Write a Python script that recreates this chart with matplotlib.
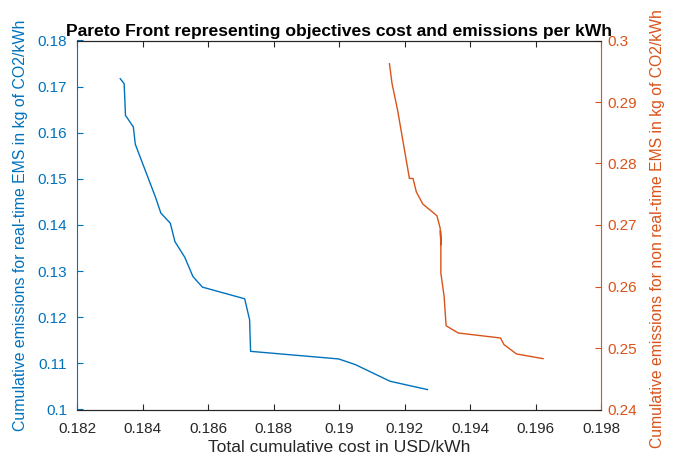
import matplotlib
matplotlib.use("Agg")
import matplotlib.pyplot as plt

# Pareto front, real-time EMS (left axis)
rt_cost = [0.18332, 0.18344, 0.18348, 0.18372, 0.18378, 0.18441, 0.18456, 0.18485,
           0.18499, 0.18529, 0.18554, 0.18583, 0.18712, 0.18727, 0.18730, 0.18999,
           0.19050, 0.19156, 0.19270]
rt_emis = [0.17172, 0.17064, 0.16378, 0.16126, 0.15751, 0.14577, 0.14259, 0.14037,
           0.13639, 0.13302, 0.12882, 0.12653, 0.12400, 0.11946, 0.11261, 0.11096,
           0.10973, 0.10612, 0.10432]

# Pareto front, non real-time EMS (right axis)
nrt_cost = [0.19154, 0.19162, 0.19179, 0.19215, 0.19226, 0.19236, 0.19256, 0.19299,
            0.19309, 0.19311, 0.19310, 0.19311, 0.19311, 0.19321, 0.19327, 0.19364,
            0.19493, 0.19504, 0.19542, 0.19623]
nrt_emis = [0.29622, 0.29298, 0.28865, 0.27757, 0.27757, 0.27540, 0.27340, 0.27151,
            0.26946, 0.26676, 0.26900, 0.26676, 0.26217, 0.25837, 0.25362, 0.25244,
            0.25163, 0.25054, 0.24903, 0.24827]

BLUE = "#0072BD"
ORANGE = "#D95319"
DARK = "#262626"

plt.rcParams["font.family"] = ["Liberation Sans", "DejaVu Sans"]

fig = plt.figure(figsize=(6.83, 4.59), dpi=100)
ax = fig.add_axes([77 / 683, 1 - 409.5 / 459, 524 / 683, 369 / 459])
ax2 = ax.twinx()

ax.plot(rt_cost, rt_emis, color=BLUE, lw=1.0)
ax2.plot(nrt_cost, nrt_emis, color=ORANGE, lw=1.0)

ax.set_xlim(0.182, 0.198)
ax.set_ylim(0.1, 0.18)
ax2.set_ylim(0.24, 0.3)
ax.set_xticks([0.182, 0.184, 0.186, 0.188, 0.19, 0.192, 0.194, 0.196, 0.198])
ax.set_xticklabels(["0.182", "0.184", "0.186", "0.188", "0.19", "0.192", "0.194", "0.196", "0.198"])
ax.set_yticks([0.1, 0.11, 0.12, 0.13, 0.14, 0.15, 0.16, 0.17, 0.18])
ax.set_yticklabels(["0.1", "0.11", "0.12", "0.13", "0.14", "0.15", "0.16", "0.17", "0.18"])
ax2.set_yticks([0.24, 0.25, 0.26, 0.27, 0.28, 0.29, 0.3])
ax2.set_yticklabels(["0.24", "0.25", "0.26", "0.27", "0.28", "0.29", "0.3"])

ax.tick_params(axis="x", direction="in", top=True, length=4, labelsize=11,
               colors=DARK, pad=9)
ax.tick_params(axis="y", direction="in", length=4, labelsize=11, colors=BLUE, pad=7)
ax2.tick_params(axis="y", direction="in", length=4, labelsize=11, colors=ORANGE, pad=4.5)

ax.spines["left"].set_color(BLUE)
ax2.spines["left"].set_visible(False)
ax2.spines["right"].set_color(ORANGE)
ax.spines["right"].set_visible(False)
for a in (ax, ax2):
    a.spines["bottom"].set_color(DARK)
    a.spines["top"].set_color(DARK)

ax.set_xlabel("Total cumulative cost in USD/kWh", fontsize=12.6, color=DARK, labelpad=3)
ax.set_ylabel("Cumulative emissions for real-time EMS in kg of CO2/kWh", fontsize=11.4,
              color=BLUE)
ax2.set_ylabel("Cumulative emissions for non real-time EMS in kg of CO2/kWh", fontsize=11.3,
               color=ORANGE)
ax.yaxis.set_label_coords(-0.0935, 0.5)
ax2.yaxis.set_label_coords(1.0935, 0.49)
ax.set_title("Pareto Front representing objectives cost and emissions per kWh",
             fontsize=12.6, fontweight="bold", pad=3)

fig.savefig("out.png", dpi=100)
